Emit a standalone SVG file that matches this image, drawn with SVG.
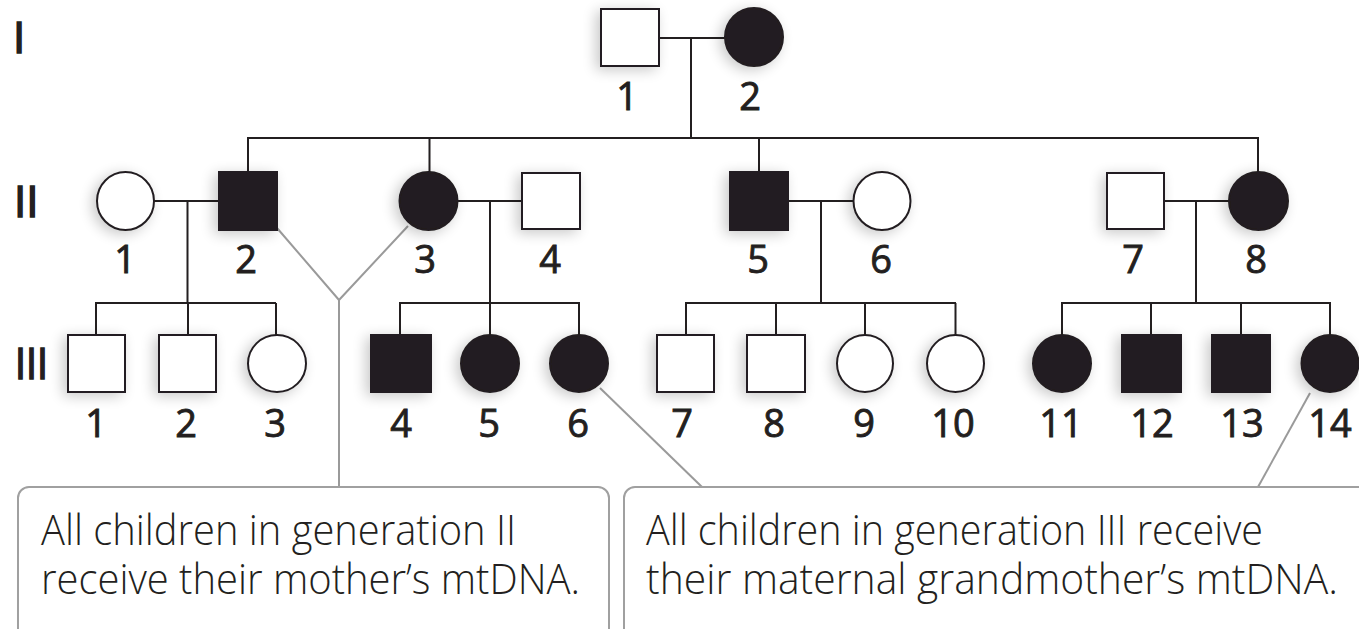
<svg xmlns="http://www.w3.org/2000/svg" width="1359" height="629" viewBox="0 0 1359 629">
  <defs>
    <filter id="halo" x="-40%" y="-40%" width="180%" height="180%">
      <feGaussianBlur in="SourceAlpha" stdDeviation="7"/>
      <feOffset dx="-4" dy="3" result="b"/>
      <feComponentTransfer><feFuncA type="linear" slope="0.22"/></feComponentTransfer>
      <feMerge><feMergeNode/><feMergeNode in="SourceGraphic"/></feMerge>
    </filter>
  </defs>
  <style>
    .sym { stroke: #231f20; stroke-width: 2; filter: url(#halo); }
    .on { fill: #231f20; }
    .off { fill: #ffffff; }
    .line { stroke: #231f20; stroke-width: 2; fill: none; }
    .note { stroke: #9a9a9a; stroke-width: 2; fill: none; }
    .box { stroke: #a0a0a0; stroke-width: 2; fill: #ffffff; }
    .num { font-family: "Open Sans", "Liberation Sans", sans-serif; font-size: 38px; fill: #231f20; stroke: #231f20; stroke-width: 0.9; text-anchor: middle; }
    .gen { font-family: "Open Sans", "Liberation Sans", sans-serif; font-size: 44px; fill: #231f20; stroke: #231f20; stroke-width: 1.6; }
    .txt { font-family: "Open Sans", "Liberation Sans", sans-serif; font-size: 42px; font-weight: 300; fill: #231f20; }
  </style>

  <rect width="1359" height="629" fill="#ffffff"/>

  <!-- generation labels -->
  <text class="gen" x="13" y="53">I</text>
  <text class="gen" x="14" y="217">II</text>
  <text class="gen" x="15" y="379" textLength="33" lengthAdjust="spacingAndGlyphs">III</text>

  <!-- connectors -->
  <g id="connectors">
    <!-- generation I mating and sibship -->
    <path class="line" d="M659 38H725 M691 38V138 M247 138H1259 M248 138V172 M429.5 138V172 M759 138V172 M1258 138V172"/>
    <!-- generation II matings -->
    <path class="line" d="M154 201H219 M187.5 201V303 M458 201H522 M490 201V303 M788 201H853 M821 201V303 M1164 201H1229 M1196 201V303"/>
    <!-- generation III sibships -->
    <path class="line" d="M96 303H276 M96 302V335 M188 303V335 M276 303V335"/>
    <path class="line" d="M400 303H580 M400 302V335 M490 303V335 M579 303V335"/>
    <path class="line" d="M686 303H956 M686 302V335 M776 303V335 M865 303V335 M955.5 303V335"/>
    <path class="line" d="M1062 303H1331 M1062 302V335 M1151 303V335 M1241 303V335 M1330 303V335"/>
    <!-- callout leaders -->
    <path class="note" d="M277 228L339 300 M408 226L339 300 M339 300V487"/>
    <path class="note" d="M600 388L702 487"/>
    <path class="note" d="M1310 393L1258 487"/>
  </g>

  <!-- generation I -->
  <g id="I-1"><rect class="sym off" x="601" y="9" width="58" height="57"/><text class="num" x="627" y="110">1</text></g>
  <g id="I-2"><ellipse class="sym on" cx="754" cy="37" rx="29" ry="29"/><text class="num" x="750" y="110">2</text></g>

  <!-- generation II -->
  <g id="II-1"><ellipse class="sym off" cx="125.5" cy="201" rx="28.5" ry="29"/><text class="num" x="125" y="273">1</text></g>
  <g id="II-2"><rect class="sym on" x="219" y="172" width="58" height="58"/><text class="num" x="246" y="273">2</text></g>
  <g id="II-3"><ellipse class="sym on" cx="428.5" cy="201" rx="29" ry="29"/><text class="num" x="425" y="273">3</text></g>
  <g id="II-4"><rect class="sym off" x="522" y="173" width="58" height="56"/><text class="num" x="550" y="273">4</text></g>
  <g id="II-5"><rect class="sym on" x="730" y="172" width="58" height="58"/><text class="num" x="758" y="273">5</text></g>
  <g id="II-6"><ellipse class="sym off" cx="882" cy="201" rx="28.5" ry="29"/><text class="num" x="881" y="273">6</text></g>
  <g id="II-7"><rect class="sym off" x="1107" y="173" width="57" height="56"/><text class="num" x="1133" y="273">7</text></g>
  <g id="II-8"><ellipse class="sym on" cx="1258.5" cy="201" rx="29.5" ry="29"/><text class="num" x="1256" y="273">8</text></g>

  <!-- generation III -->
  <g id="III-1"><rect class="sym off" x="68" y="335" width="57" height="57"/><text class="num" x="96" y="437">1</text></g>
  <g id="III-2"><rect class="sym off" x="159" y="335" width="57" height="57"/><text class="num" x="186" y="437">2</text></g>
  <g id="III-3"><ellipse class="sym off" cx="277" cy="363.5" rx="29" ry="28.5"/><text class="num" x="275" y="437">3</text></g>
  <g id="III-4"><rect class="sym on" x="371" y="335" width="60" height="57"/><text class="num" x="401" y="437">4</text></g>
  <g id="III-5"><ellipse class="sym on" cx="490" cy="363.5" rx="29" ry="28.5"/><text class="num" x="489" y="437">5</text></g>
  <g id="III-6"><ellipse class="sym on" cx="579" cy="363.5" rx="29" ry="28.5"/><text class="num" x="578" y="437">6</text></g>
  <g id="III-7"><rect class="sym off" x="657" y="335" width="57" height="57"/><text class="num" x="682" y="437">7</text></g>
  <g id="III-8"><rect class="sym off" x="747" y="335" width="58" height="57"/><text class="num" x="774" y="437">8</text></g>
  <g id="III-9"><ellipse class="sym off" cx="865" cy="363.5" rx="28" ry="28.5"/><text class="num" x="864" y="437">9</text></g>
  <g id="III-10"><ellipse class="sym off" cx="955.5" cy="363.5" rx="28.5" ry="28.5"/><text class="num" x="953" y="437">10</text></g>
  <g id="III-11"><ellipse class="sym on" cx="1062" cy="363.5" rx="29" ry="28.5"/><text class="num" x="1061" y="437">11</text></g>
  <g id="III-12"><rect class="sym on" x="1122" y="335" width="59" height="57"/><text class="num" x="1152" y="437">12</text></g>
  <g id="III-13"><rect class="sym on" x="1212" y="335" width="58" height="57"/><text class="num" x="1242" y="437">13</text></g>
  <g id="III-14"><ellipse class="sym on" cx="1330" cy="363.5" rx="28.5" ry="28.5"/><text class="num" x="1330" y="437">14</text></g>

  <!-- callout boxes -->
  <g id="note-II">
    <rect class="box" x="18" y="487" width="591" height="170" rx="11"/>
    <text class="txt" x="41" y="545" textLength="475" lengthAdjust="spacingAndGlyphs">All children in generation II</text>
    <text class="txt" x="41" y="594" textLength="539" lengthAdjust="spacingAndGlyphs">receive their mother’s mtDNA.</text>
  </g>
  <g id="note-III">
    <rect class="box" x="624" y="487" width="760" height="170" rx="11"/>
    <text class="txt" x="646" y="545" textLength="617" lengthAdjust="spacingAndGlyphs">All children in generation III receive</text>
    <text class="txt" x="646" y="594" textLength="692" lengthAdjust="spacingAndGlyphs">their maternal grandmother’s mtDNA.</text>
  </g>
</svg>
